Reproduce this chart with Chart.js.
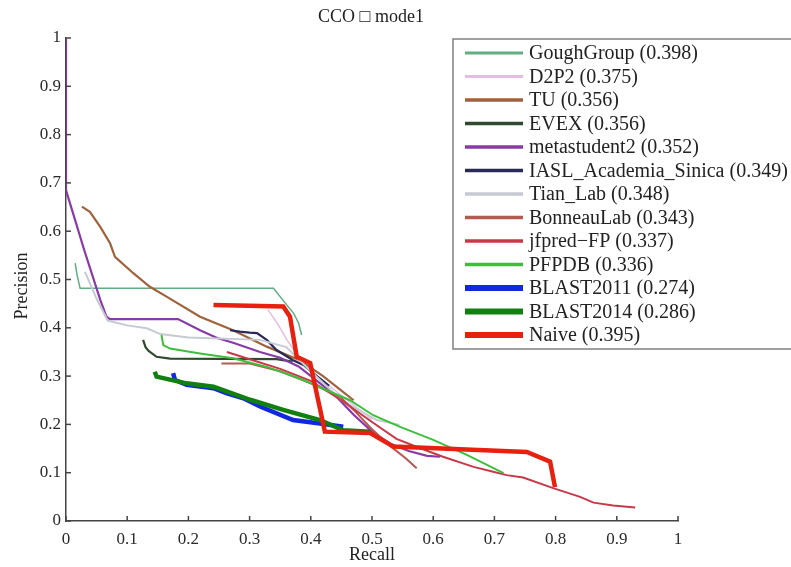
<!DOCTYPE html>
<html>
<head>
<meta charset="utf-8">
<script src="https://cdn.jsdelivr.net/npm/chart.js@4/dist/chart.umd.min.js"></script>
<style>
  html, body { margin: 0; padding: 0; background: #fff; }
  #wrap { width: 791px; height: 567px; }
</style>
</head>
<body>
<div id="wrap"><canvas id="pr" width="791" height="567"></canvas></div>
<script>
// ===== precision / recall curves, [recall, precision] =====
const gough = [[0.015,0.534],[0.018,0.51],[0.023,0.482],[0.339,0.482],[0.361,0.447],[0.372,0.43],[0.38,0.41],[0.385,0.385]];
const d2p2 = [[0.33,0.437],[0.345,0.41],[0.361,0.375],[0.38,0.34],[0.4,0.31],[0.43,0.28],[0.46,0.25],[0.5,0.21]];
const tu = [[0.026,0.651],[0.039,0.64],[0.056,0.609],[0.072,0.575],[0.08,0.547],[0.11,0.513],[0.137,0.485],[0.165,0.464],[0.219,0.423],[0.273,0.395],[0.328,0.361],[0.382,0.333],[0.42,0.3],[0.45,0.27],[0.47,0.25]];
const evex = [[0.126,0.375],[0.13,0.36],[0.135,0.352],[0.148,0.34],[0.17,0.336],[0.344,0.335],[0.37,0.33]];
const meta2 = [[0,1.0],[0,0.685],[0.03,0.56],[0.056,0.458],[0.066,0.423],[0.072,0.418],[0.183,0.418],[0.219,0.395],[0.247,0.379],[0.273,0.369],[0.317,0.35],[0.35,0.338],[0.38,0.32],[0.41,0.29],[0.44,0.26],[0.47,0.22],[0.5,0.185],[0.53,0.16],[0.56,0.145],[0.59,0.135],[0.611,0.133]];
const iasl = [[0.268,0.395],[0.284,0.392],[0.3,0.39],[0.312,0.389],[0.328,0.375],[0.344,0.354],[0.371,0.333],[0.388,0.323],[0.41,0.3],[0.43,0.28]];
const tian = [[0.031,0.516],[0.05,0.46],[0.068,0.415],[0.1,0.405],[0.132,0.399],[0.154,0.387],[0.2,0.38],[0.317,0.375],[0.36,0.36],[0.4,0.31],[0.45,0.25],[0.508,0.209],[0.545,0.199]];
const bonneau = [[0.254,0.326],[0.3,0.326],[0.35,0.31],[0.4,0.285],[0.448,0.257],[0.47,0.23],[0.5,0.19],[0.53,0.155],[0.555,0.13],[0.573,0.109]];
const jfpred = [[0.263,0.35],[0.3,0.335],[0.35,0.315],[0.4,0.29],[0.45,0.25],[0.5,0.205],[0.54,0.17],[0.58,0.15],[0.616,0.133],[0.666,0.112],[0.698,0.102],[0.72,0.095],[0.747,0.09],[0.796,0.068],[0.84,0.05],[0.862,0.038],[0.894,0.032],[0.93,0.028]];
const pfpdb = [[0.156,0.385],[0.159,0.364],[0.17,0.357],[0.219,0.347],[0.273,0.337],[0.328,0.319],[0.382,0.295],[0.464,0.25],[0.502,0.219],[0.546,0.195],[0.6,0.168],[0.655,0.137],[0.715,0.099]];
const blast2011 = [[0.175,0.306],[0.178,0.292],[0.197,0.282],[0.241,0.275],[0.263,0.264],[0.29,0.254],[0.317,0.237],[0.371,0.209],[0.415,0.202],[0.453,0.195]];
const blast2014 = [[0.145,0.309],[0.148,0.299],[0.197,0.285],[0.241,0.278],[0.301,0.251],[0.355,0.23],[0.415,0.209],[0.453,0.188],[0.497,0.185]];
const naive = [[0.241,0.447],[0.355,0.444],[0.366,0.423],[0.377,0.34],[0.399,0.327],[0.423,0.185],[0.497,0.182],[0.535,0.154],[0.753,0.143],[0.791,0.123],[0.799,0.07]];

const names = ["GoughGroup","D2P2","TU","EVEX","metastudent2","IASL_Academia_Sinica","Tian_Lab","BonneauLab","jfpred\u2212FP","PFPDB","BLAST2011","BLAST2014","Naive"];
const fmax = ["0.398","0.375","0.356","0.356","0.352","0.349","0.348","0.343","0.337","0.336","0.274","0.286","0.395"];
const curves = [gough, d2p2, tu, evex, meta2, iasl, tian, bonneau, jfpred, pfpdb, blast2011, blast2014, naive];

const xTicks = [0,0.1,0.2,0.3,0.4,0.5,0.6,0.7,0.8,0.9,1];
const yTicks = [0,0.1,0.2,0.3,0.4,0.5,0.6,0.7,0.8,0.9,1];
const titleText = "CCO \u25A1 mode1";

// ===== style =====
const colors = ["#62ad82","#e6bde2","#a0623c","#2f4a2f","#8a3aa8","#2a2a58","#c6cad2","#b45a50","#c83848","#3cc03c","#1028e0","#118011","#e82010"];
const widths = [1.5,1.5,2.2,2.2,2.2,2.2,2,2,2,2,4.5,4.5,4.5];
const serif = '"Liberation Serif", "Times New Roman", serif';

const datasets = curves.map((c, i) => ({
  label: names[i],
  data: c.map(p => ({x: p[0], y: p[1]})),
  borderColor: colors[i],
  borderWidth: widths[i],
  pointRadius: 0,
  tension: 0,
  fill: false,
  order: curves.length - i
}));

// ticks inside the axes, title, axis labels, legend box
const decor = {
  id: "decor",
  afterDraw(chart) {
    const ctx = chart.ctx, xs = chart.scales.x, ys = chart.scales.y;
    const a = chart.chartArea;
    ctx.save();
    ctx.strokeStyle = "#444"; ctx.lineWidth = 1.5;
    xTicks.forEach(v => {
      const px = xs.getPixelForValue(v);
      ctx.beginPath(); ctx.moveTo(px, a.bottom); ctx.lineTo(px, a.bottom - 5); ctx.stroke();
    });
    yTicks.forEach(v => {
      const py = ys.getPixelForValue(v);
      ctx.beginPath(); ctx.moveTo(a.left, py); ctx.lineTo(a.left + 5, py); ctx.stroke();
    });

    ctx.fillStyle = "#222";
    ctx.textAlign = "center"; ctx.textBaseline = "middle";
    ctx.font = "18px " + serif;
    ctx.fillText(titleText, 371, 17);
    ctx.fillText("Recall", xs.getPixelForValue(0.5), 555);
    ctx.save();
    ctx.translate(22, 286); ctx.rotate(-Math.PI / 2);
    ctx.fillText("Precision", 0, 0);
    ctx.restore();

    // legend
    const lx = 453, ly = 39, lh = 310, row = 23.5;
    ctx.fillStyle = "#fff";
    ctx.fillRect(lx, ly, 800 - lx, lh);
    ctx.strokeStyle = "#808080"; ctx.lineWidth = 1.5;
    ctx.strokeRect(lx, ly, 800 - lx, lh);
    ctx.font = "20px " + serif;
    ctx.textAlign = "left";
    names.forEach((n, i) => {
      const y = ly + 14 + row * i;
      ctx.strokeStyle = colors[i];
      ctx.lineWidth = widths[i] + 1.5;
      ctx.beginPath(); ctx.moveTo(465, y); ctx.lineTo(523, y); ctx.stroke();
      ctx.fillStyle = "#222";
      ctx.fillText(n + " (" + fmax[i] + ")", 529, y + 1);
    });
    ctx.restore();
  }
};

new Chart(document.getElementById("pr"), {
  type: "line",
  data: { datasets },
  options: {
    responsive: false,
    animation: false,
    layout: { padding: { left: 0, top: 38, right: 113, bottom: 0 } },
    plugins: { legend: { display: false }, title: { display: false }, tooltip: { enabled: false } },
    scales: {
      x: {
        type: "linear", min: 0, max: 1,
        afterBuildTicks: s => { s.ticks = xTicks.map(v => ({value: v})); },
        afterFit: s => { s.height = 46; },
        grid: { display: false, drawTicks: false },
        border: { display: true, color: "#444", width: 1.5 },
        ticks: { padding: 8, color: "#2a2a2a", font: { family: serif, size: 17 }, maxRotation: 0,
                 callback: v => String(v) }
      },
      y: {
        type: "linear", min: 0, max: 1,
        afterBuildTicks: s => { s.ticks = yTicks.map(v => ({value: v})); },
        afterFit: s => { s.width = 66; },
        grid: { display: false, drawTicks: false },
        border: { display: true, color: "#444", width: 1.5 },
        ticks: { padding: 5, color: "#2a2a2a", font: { family: serif, size: 17 },
                 callback: v => String(v) }
      }
    }
  },
  plugins: [decor]
});
</script>
</body>
</html>
